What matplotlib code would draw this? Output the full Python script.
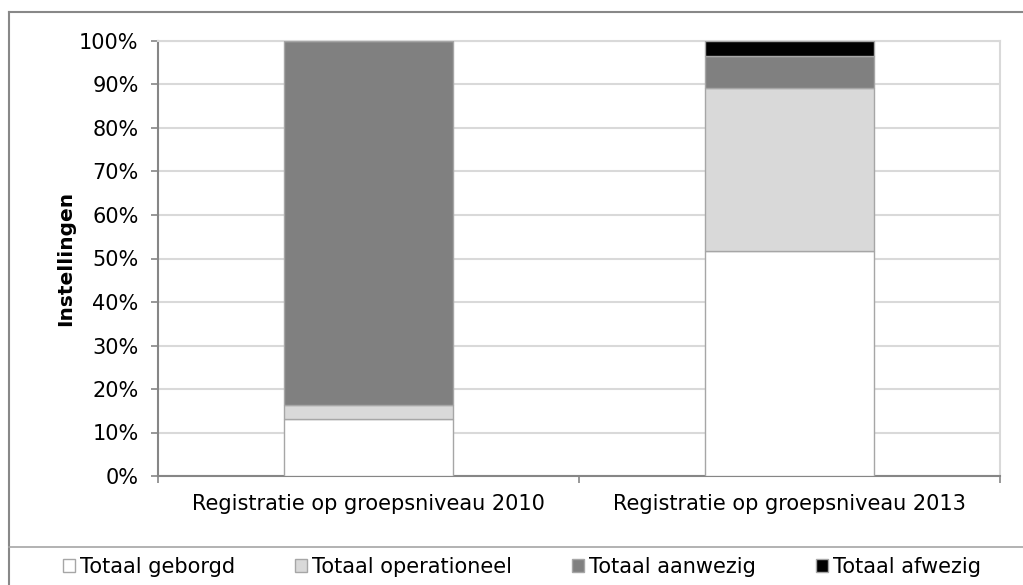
import matplotlib
matplotlib.use("Agg")
import matplotlib.pyplot as plt
from matplotlib.lines import Line2D
from matplotlib.ticker import PercentFormatter

# data (percent of Instellingen)
categories = ["Registratie op groepsniveau 2010", "Registratie op groepsniveau 2013"]
series_names = ["Totaal geborgd", "Totaal operationeel", "Totaal aanwezig", "Totaal afwezig"]
geborgd = [13.0, 51.7]
operationeel = [3.4, 37.5]
aanwezig = [83.6, 7.3]
afwezig = [0.0, 3.5]

colors = ["#FFFFFF", "#D9D9D9", "#808080", "#000000"]

plt.rcParams["font.family"] = ["DejaVu Sans"]

W, H = 1023, 585
fig = plt.figure(figsize=(W / 100, H / 100), dpi=100)
ax = fig.add_axes([158 / W, 1 - 476 / H, 842 / W, 435 / H])

x = list(range(len(categories)))
bottom = [0.0] * len(categories)
for name, vals, col in zip(series_names, [geborgd, operationeel, aanwezig, afwezig], colors):
  ax.bar(x, vals, width=0.4, bottom=bottom, color=col, edgecolor="#A6A6A6",
         linewidth=1.0, label=name, zorder=3)
  bottom = [b + v for b, v in zip(bottom, vals)]

ax.set_xlim(-0.5, 1.5)
ax.set_ylim(0, 100)
ax.set_yticks(range(0, 101, 10))
ax.yaxis.set_major_formatter(PercentFormatter(decimals=0))
ax.set_xticks(x)
ax.set_xticklabels(categories)
ax.set_xticks([-0.5, 0.5, 1.5], minor=True)
ax.tick_params(axis="x", which="major", length=0, pad=13, labelsize=15)
ax.tick_params(axis="x", which="minor", length=5, color="#868686", width=1.2)
ax.tick_params(axis="y", length=5, color="#868686", width=1.2, pad=9, labelsize=15)

ax.grid(axis="y", color="#D9D9D9", linewidth=1.5, zorder=0)
for side in ["top", "right"]:
  ax.spines[side].set_color("#D9D9D9")
  ax.spines[side].set_linewidth(1.5)
for side in ["left", "bottom"]:
  ax.spines[side].set_color("#868686")
  ax.spines[side].set_linewidth(1.5)

ax.set_ylabel("Instellingen", fontweight="bold", fontsize=14.5, labelpad=3)

# outer chart frame and legend separator
frame_col = "#888888"
fig.add_artist(Line2D([9 / W, 1.0], [1 - 12 / H, 1 - 12 / H], color=frame_col, linewidth=1.5))
fig.add_artist(Line2D([9 / W, 9 / W], [0.0, 1 - 12 / H], color=frame_col, linewidth=1.5))
fig.add_artist(Line2D([9 / W, 1.0], [1 - 547 / H, 1 - 547 / H], color="#A6A6A6", linewidth=1.2))

handles, labels = ax.get_legend_handles_labels()
fig.legend(handles, labels, loc="center", bbox_to_anchor=(522 / W, 1 - 567 / H), ncol=4,
           frameon=False, fontsize=15, handlelength=0.55, handleheight=0.55,
           handletextpad=0.25, columnspacing=2.9, borderpad=0, borderaxespad=0)

fig.savefig("out.png", dpi=100)
